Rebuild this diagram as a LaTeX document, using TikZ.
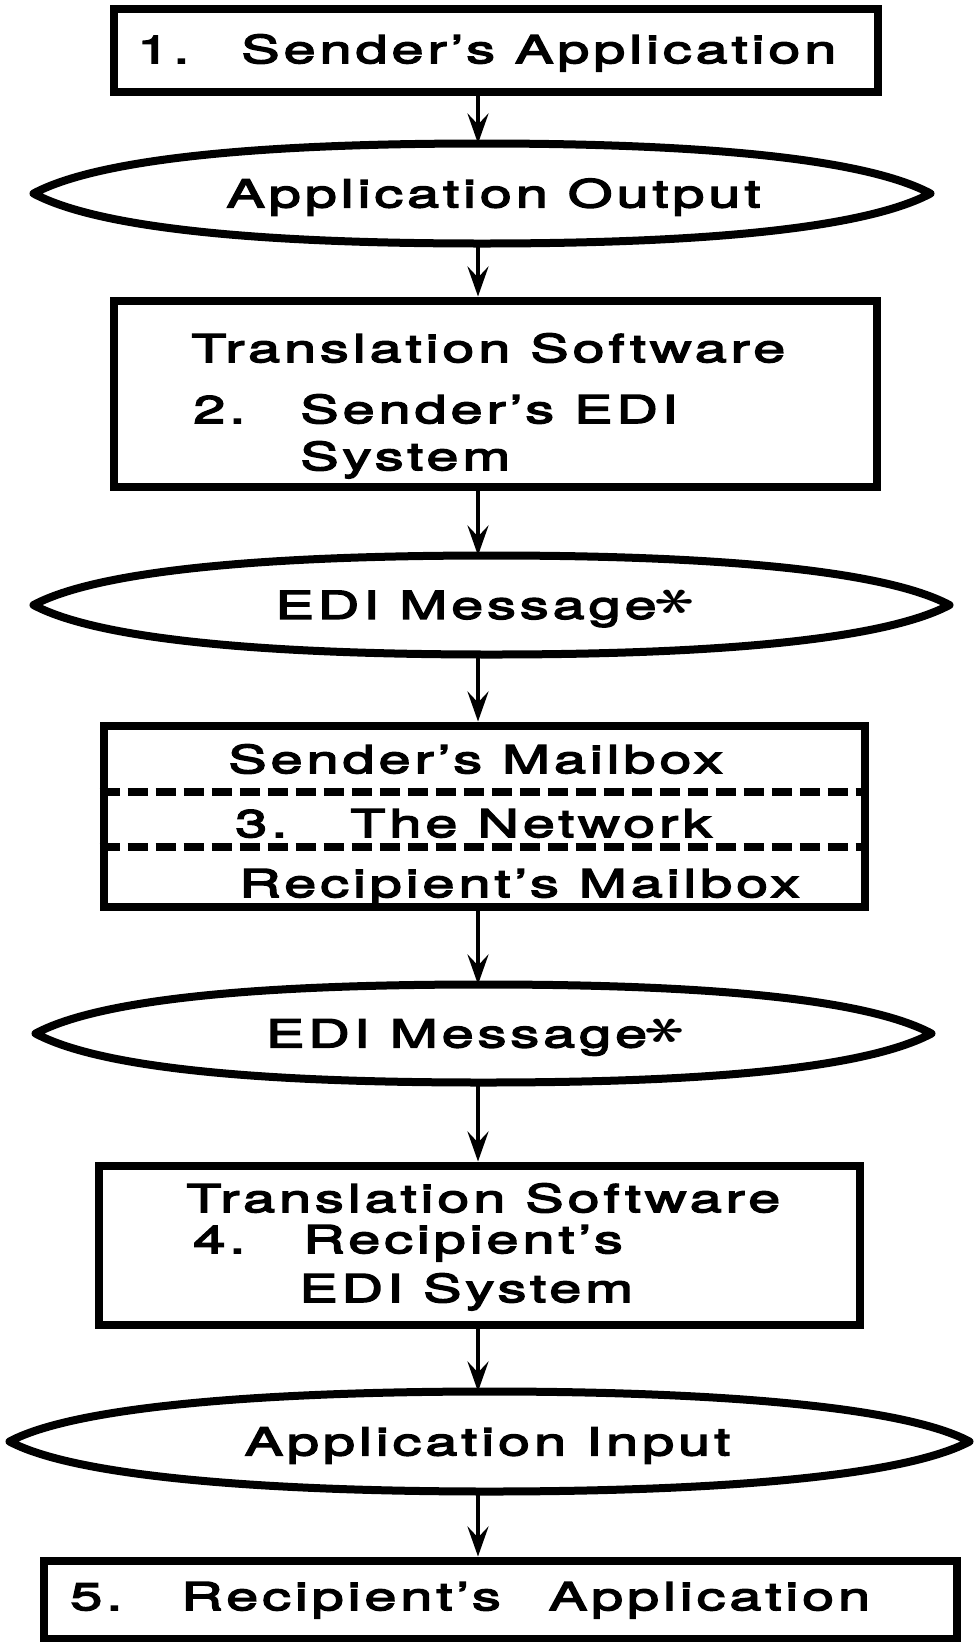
\documentclass[tikz,border=0pt]{standalone}
\usepackage{fontspec}
\usepackage{graphicx}
\newfontfamily\edifont{TeX Gyre Heros}[FakeStretch=1.5,LetterSpace=10.5,FakeBold=4]
\usetikzlibrary{arrows.meta}

% big asterisk after "EDI Message"
\newcommand{\msgstar}{\raisebox{0.02em}{\scalebox{2.2}[1.5]{\rotatebox{90}{\boldmath$\ast$}}}}
% pointed oval drawn round a named node
\newcommand{\lensline}[1]{%
  \draw[line width=0.16cm, line join=round] (#1.west) .. controls +(1.5,0.8) and +(-3.6,0) .. (#1.north)
    .. controls +(3.6,0) and +(-1.5,0.8) .. (#1.east)
    .. controls +(-1.5,-0.8) and +(3.6,0) .. (#1.south)
    .. controls +(-3.6,0) and +(1.5,-0.8) .. (#1.west) -- cycle;}

\begin{document}
\begin{tikzpicture}[font=\edifont\fontsize{21.8pt}{25pt}\selectfont,
  stagebox/.style={draw, line width=0.16cm, inner sep=0pt},
  datalens/.style={inner sep=0pt, outer sep=0pt},
  lenstext/.style={inner sep=0pt, text height=0.55cm, text depth=0pt},
  boxtext/.style={anchor=base west, inner sep=0pt},
  flow/.style={line width=0.08cm, -{Stealth[length=0.6cm,width=0.42cm,inset=0.22cm]}},
  divider/.style={line width=0.15cm, dash pattern=on 0.4cm off 0.16cm}]
\useasboundingbox (0,0) rectangle (19.56,-32.84);
\coordinate (axis) at (9.56,0);

% 1. sender
\node[stagebox, minimum width=15.28cm, minimum height=1.66cm] (sendapp) at (9.91,-1.0) {};
\node[boxtext] (sendapptxt) at (2.74,-1.26) {\makebox[2.08cm][l]{1.}Sender’s Application};
\node[datalens, minimum width=17.94cm, minimum height=2.0cm] (appout) at (9.64,-3.87) {};
\lensline{appout}
\node[lenstext] (appouttxt) at (9.87,-3.87) {Application Output};

% 2. translation
\node[stagebox, minimum width=15.26cm, minimum height=3.72cm] (sendedi) at (9.90,-7.87) {};
\node[boxtext] (sendedia) at (3.82,-7.24) {Translation Software};
\node[boxtext] (sendedib) at (3.86,-8.46) {\makebox[2.14cm][l]{2.}Sender’s EDI};
\node[boxtext] (sendedic) at (6.00,-9.40) {System};
\node[datalens, minimum width=18.32cm, minimum height=1.98cm] (msgout) at (9.83,-12.10) {};
\lensline{msgout}
\node[lenstext] (msgouttxt) at (9.70,-12.10) {EDI Message\msgstar};

% 3. network
\node[stagebox, minimum width=15.22cm, minimum height=3.62cm] (network) at (9.68,-16.32) {};
\node[boxtext] (networka) at (4.56,-15.46) {Sender’s Mailbox};
\node[boxtext] (networkb) at (4.70,-16.74) {\makebox[2.3cm][l]{3.}The Network};
\node[boxtext] (networkc) at (4.78,-17.94) {Recipient’s Mailbox};
\draw[divider] (network.west |- 0,-15.84) -- (network.east |- 0,-15.84);
\draw[divider] (network.west |- 0,-16.94) -- (network.east |- 0,-16.94);
\node[datalens, minimum width=17.92cm, minimum height=1.96cm] (msgin) at (9.67,-20.67) {};
\lensline{msgin}
\node[lenstext] (msgintxt) at (9.51,-20.67) {EDI Message\msgstar};

% 4. translation back
\node[stagebox, minimum width=15.22cm, minimum height=3.18cm] (recvedi) at (9.58,-24.90) {};
\node[boxtext] (recvedia) at (3.72,-24.24) {Translation Software};
\node[boxtext] (recvedib) at (3.86,-25.06) {\makebox[2.2cm][l]{4.}Recipient’s};
\node[boxtext] (recvedic) at (5.98,-26.04) {EDI System};
\node[datalens, minimum width=19.2cm, minimum height=2.0cm] (appin) at (9.79,-28.83) {};
\lensline{appin}
\node[lenstext] (appintxt) at (9.75,-28.83) {Application Input};

% 5. recipient
\node[stagebox, minimum width=18.26cm, minimum height=1.56cm] (recvapp) at (10.0,-31.99) {};
\node[boxtext] (recvapptxt) at (1.40,-32.20) {\makebox[2.22cm][l]{5.}\makebox[7.35cm][l]{Recipient’s}Application};

\draw[flow] (sendapp.south -| axis) -- (appout.north -| axis);
\draw[flow] (appout.south -| axis) -- (sendedi.north -| axis);
\draw[flow] (sendedi.south -| axis) -- (msgout.north -| axis);
\draw[flow] (msgout.south -| axis) -- (network.north -| axis);
\draw[flow] (network.south -| axis) -- (msgin.north -| axis);
\draw[flow] (msgin.south -| axis) -- (recvedi.north -| axis);
\draw[flow] (recvedi.south -| axis) -- (appin.north -| axis);
\draw[flow] (appin.south -| axis) -- (recvapp.north -| axis);
\end{tikzpicture}
\end{document}
